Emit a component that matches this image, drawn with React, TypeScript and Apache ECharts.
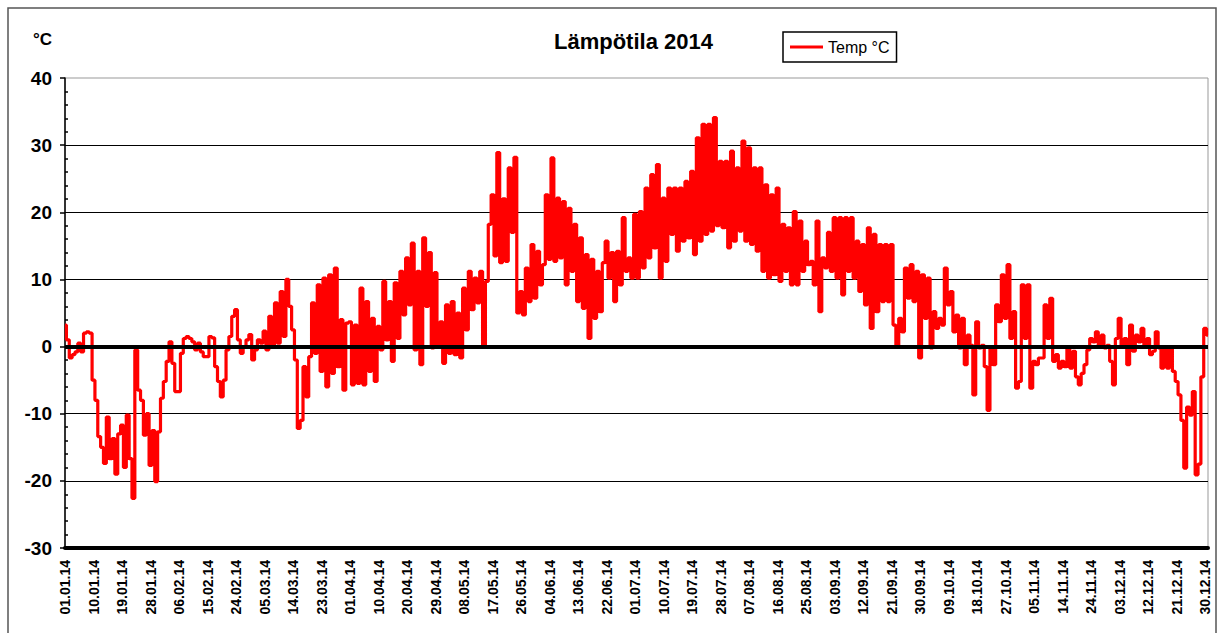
import { useEffect, useRef } from 'react';
import * as echarts from 'echarts';

// Tick labels of the date axis (one label every 10 samples)
const xTickLabels = [
  '01.01.14', '10.01.14', '19.01.14', '28.01.14', '06.02.14', '15.02.14', '24.02.14',
  '05.03.14', '14.03.14', '23.03.14', '01.04.14', '10.04.14', '20.04.14', '29.04.14',
  '08.05.14', '17.05.14', '26.05.14', '04.06.14', '13.06.14', '22.06.14', '01.07.14',
  '10.07.14', '19.07.14', '28.07.14', '07.08.14', '16.08.14', '25.08.14', '03.09.14',
  '12.09.14', '21.09.14', '30.09.14', '09.10.14', '18.10.14', '27.10.14', '05.11.14',
  '14.11.14', '24.11.14', '03.12.14', '12.12.14', '21.12.14', '30.12.14',
];
const SAMPLES_PER_TICK = 10;

// Temperature samples (°C)
const tempJanFeb = [
  3.2, 1.0, -1.7, -1.2, -0.8, 0.5, -0.8, 2.0, 2.2, 2.0,
  -5, -8, -13.4, -15, -17.4, -10.5, -16.7, -13.7, -19, -13,
  -11.7, -18, -10.2, -16.7, -22.6, -0.5, -6.5, -8, -13.2, -10,
  -17.7, -12.5, -20.1, -12.7, -7.7, -5.2, -2.2, 0.7, -2.5, -6.7,
  -6.7, -1, 1.2, 1.5, 1.2, 0.7, -0.5, 0.5, -0.8, -1.5,
];
const tempFebMar = [
  -1.5, 1.5, 1.3, -3, -5.2, -7.5, -5, -0.5, 1.5, 4.5,
  5.5, 1, -1, 0, 1, 1.8, -2, -0.5, 1, 0.5,
  2.3, -0.5, 4.5, 0, 6.5, 0.5, 8.2, 1.5, 10, 6,
  2.5, -2, -12.2, -11, -3, -7.5, -1.5, 6.5, -1, 9.2,
  -3.7, 10.2, -6, 10.7, -4, 11.7, -3, 4, -6.5, 3.5,
];
const tempAprMay = [
  3.7, -5.7, 3.2, -5.5, 8.7, -5.7, 6.7, -3.7, 4.2, -5.2,
  3.0, -0.5, 9.7, 1, 6.7, -2.2, 9.5, 1.2, 11.2, 4.7,
  13.2, 6.2, 15.4, -0.5, 11.2, -2.7, 16.2, 6, 14, -0.2,
  11, 0.2, 3.7, -2.5, 6.2, -1, 6.7, -1.2, 5, -1.7,
  8.7, 2.5, 11.2, 5.5, 10.2, 6.5, 11.2, 0, 9.7, 18.2,
];
const tempMayJun = [
  22.6, 13.5, 28.9, 12.5, 22, 12.7, 26.6, 17, 28.2, 5,
  8.2, 4.7, 11.7, 6.7, 15.2, 7.2, 14.2, 9.2, 12.2, 22.6,
  13, 28.1, 12.7, 22.1, 13.2, 21.6, 9.2, 20.6, 11.2, 18.2,
  6.7, 16.2, 5.7, 13.7, 1.2, 13, 4.2, 11.2, 5.2, 12.5,
  15.7, 10.2, 14, 6.7, 14.2, 9.2, 19.2, 11.2, 13.2, 10.2,
];
const tempJulAug = [
  19.7, 10.2, 20.1, 11.7, 23.6, 13.2, 25.6, 14.7, 27.1, 10.2,
  22.1, 12.7, 23.6, 16.7, 23.6, 14.2, 23.6, 15.7, 24.6, 16.2,
  26.1, 13.7, 31.1, 15.7, 33.1, 16.7, 33.1, 17.2, 34.1, 18,
  27.6, 17.7, 27.6, 14.7, 29.1, 15.7, 26.6, 17.2, 30.6, 15.7,
  29.6, 15.2, 26.6, 14.2, 26.6, 11.2, 24.1, 10.2, 22.6, 10.7,
];
const tempAugSep = [
  23.6, 9.7, 18.2, 11.2, 17.7, 9.2, 20.1, 9.2, 18.7, 11.2,
  15.7, 12.2, 12.7, 9.2, 18.7, 5.2, 13.2, 11.7, 17, 11.2,
  19.2, 10.2, 19.2, 7.7, 19.2, 11.2, 19.2, 10.2, 15.7, 8.2,
  15.2, 6.2, 17.7, 2.7, 16.7, 5.2, 15.2, 6.7, 15.2, 6.7,
  15.2, 3.2, 0.2, 4.2, 2.2, 11.7, 7.2, 12.2, 6.7, 11.2,
];
const tempOctNov = [
  -1.7, 10.7, 4.2, 10.2, -0.2, 5.2, 2.7, 4.2, 3.2, 11.7,
  6.2, 8.2, 2.2, 4.7, -0.2, 4.2, -2.7, 1.7, 0.2, -7.2,
  3.7, -0.2, 0.2, -3, -9.5, -0.2, -2.7, 6.2, 3.7, 10.7,
  4.2, 12.2, 1.2, 5.2, -6.2, -5.2, 9.2, 1.2, 9.2, -6.2,
  -2.2, -2.7, -1.7, -1.7, 6.2, 1.2, 7.2, -2.2, -1.2, -3.2,
];
const tempNovDec = [
  -2.2, -3.0, -0.2, -3.2, -0.7, -4.5, -5.7, -4.0, -2.7, -0.5,
  1.2, 0.7, 2.2, 0.2, 1.7, -0.2, 0.2, -2.2, -5.7, 1.2,
  4.2, 0.2, 1.2, -2.7, 3.2, -0.7, 1.7, 0.7, 2.7, 0.2,
  1.2, -1.2, -0.7, 2.2, -0.2, -3.2, 0, -3.2, -0.2, -3.7,
  -5.2, -7.2, -11, -18.1, -9, -10.2, -6.7, -19.1, -17.5, -4.5,
  2.7, 1.7,
];

const temps = [
  ...tempJanFeb, ...tempFebMar, ...tempAprMay, ...tempMayJun,
  ...tempJulAug, ...tempAugSep, ...tempOctNov, ...tempNovDec,
];

const FONT = '"Liberation Sans", Arial, sans-serif';

export default function App() {
  const ref = useRef<HTMLDivElement>(null);

  useEffect(() => {
    if (!ref.current) return;
    const chart = echarts.init(ref.current, null, { renderer: 'svg' });
    const xMax = temps.length - 1;
    const seriesData = temps.map((v, i) => [i, v]);

    chart.setOption({
      animation: false,
      backgroundColor: '#fff',
      title: {
        text: 'Lämpötila 2014',
        left: 554,
        top: 30,
        padding: 0,
        textStyle: { fontFamily: FONT, fontSize: 22, fontWeight: 'bold', color: '#000' },
      },
      legend: {
        data: ['Temp °C'],
        left: 783,
        top: 32,
        padding: [7, 7, 7, 7],
        itemWidth: 33,
        itemHeight: 3,
        icon: 'rect',
        borderColor: '#000',
        borderWidth: 1.5,
        textStyle: { fontFamily: FONT, fontSize: 16, color: '#000' },
      },
      graphic: [
        {
          type: 'rect',
          silent: true,
          shape: { x: 8, y: 8, width: 1208, height: 700 },
          style: { fill: 'none', stroke: '#555', lineWidth: 1.5 },
        },
        {
          type: 'text',
          left: 33,
          top: 31,
          silent: true,
          style: { text: '°C', fontFamily: FONT, fontSize: 17, fontWeight: 'bold', fill: '#000' },
        },
      ],
      grid: {
        left: 65,
        right: 14,
        top: 78,
        bottom: 85,
        show: true,
        borderColor: '#999',
        borderWidth: 1,
        backgroundColor: 'transparent',
        containLabel: false,
        outerBoundsMode: 'none',
      },
      xAxis: {
        type: 'value',
        min: 0,
        max: xMax,
        interval: SAMPLES_PER_TICK,
        position: 'bottom',
        axisLine: { onZero: false, lineStyle: { color: '#000', width: 4 } },
        axisTick: { show: false },
        splitLine: { show: false },
        axisLabel: {
          rotate: 90,
          margin: 12,
          padding: [0, 0, 10, 0],
          fontFamily: FONT,
          fontSize: 14,
          fontWeight: 'bold',
          color: '#000',
          showMaxLabel: false,
          formatter: (v: number) => {
            const i = Math.round(v / SAMPLES_PER_TICK);
            if (Math.abs(v - i * SAMPLES_PER_TICK) > 1e-6) return '';
            return xTickLabels[i] ?? '';
          },
        },
      },
      yAxis: [
        {
          type: 'value',
          min: -30,
          max: 40,
          interval: 10,
          position: 'left',
          axisLine: { show: true, lineStyle: { color: '#000', width: 1.5 } },
          axisTick: { show: true, length: 5, lineStyle: { color: '#000', width: 1.5 } },
          axisLabel: {
            margin: 13,
            fontFamily: FONT,
            fontSize: 19,
            fontWeight: 'bold',
            color: '#000',
          },
          splitLine: { show: true, showMaxLine: false, lineStyle: { color: '#000', width: 1 } },
        },
        {
          type: 'value',
          min: -30,
          max: 40,
          interval: 10,
          position: 'right',
          offset: -1143,
          axisLine: { show: false },
          axisTick: { show: false, inside: false },
          axisLabel: { show: false },
          splitLine: { show: false },
          minorTick: { show: true, splitNumber: 5, length: 3, lineStyle: { color: '#000', width: 1.5 } },
        },
      ],
      series: [
        {
          name: 'Temp °C',
          type: 'line',
          data: seriesData,
          yAxisIndex: 0,
          step: 'middle',
          showSymbol: false,
          symbol: 'none',
          lineStyle: { color: '#ff0000', width: 3.2 },
          itemStyle: { color: '#ff0000' },
          z: 2,
          markLine: {
            silent: true,
            symbol: ['none', 'none'],
            label: { show: false },
            lineStyle: { color: '#000', width: 4, type: 'solid' },
            data: [{ yAxis: 0 }],
          },
        },
      ],
    });

    return () => chart.dispose();
  }, []);

  return (
    <div
      ref={ref}
      style={{ position: 'absolute', left: 0, top: 0, width: 1222, height: 633, background: '#fff' }}
    />
  );
}
